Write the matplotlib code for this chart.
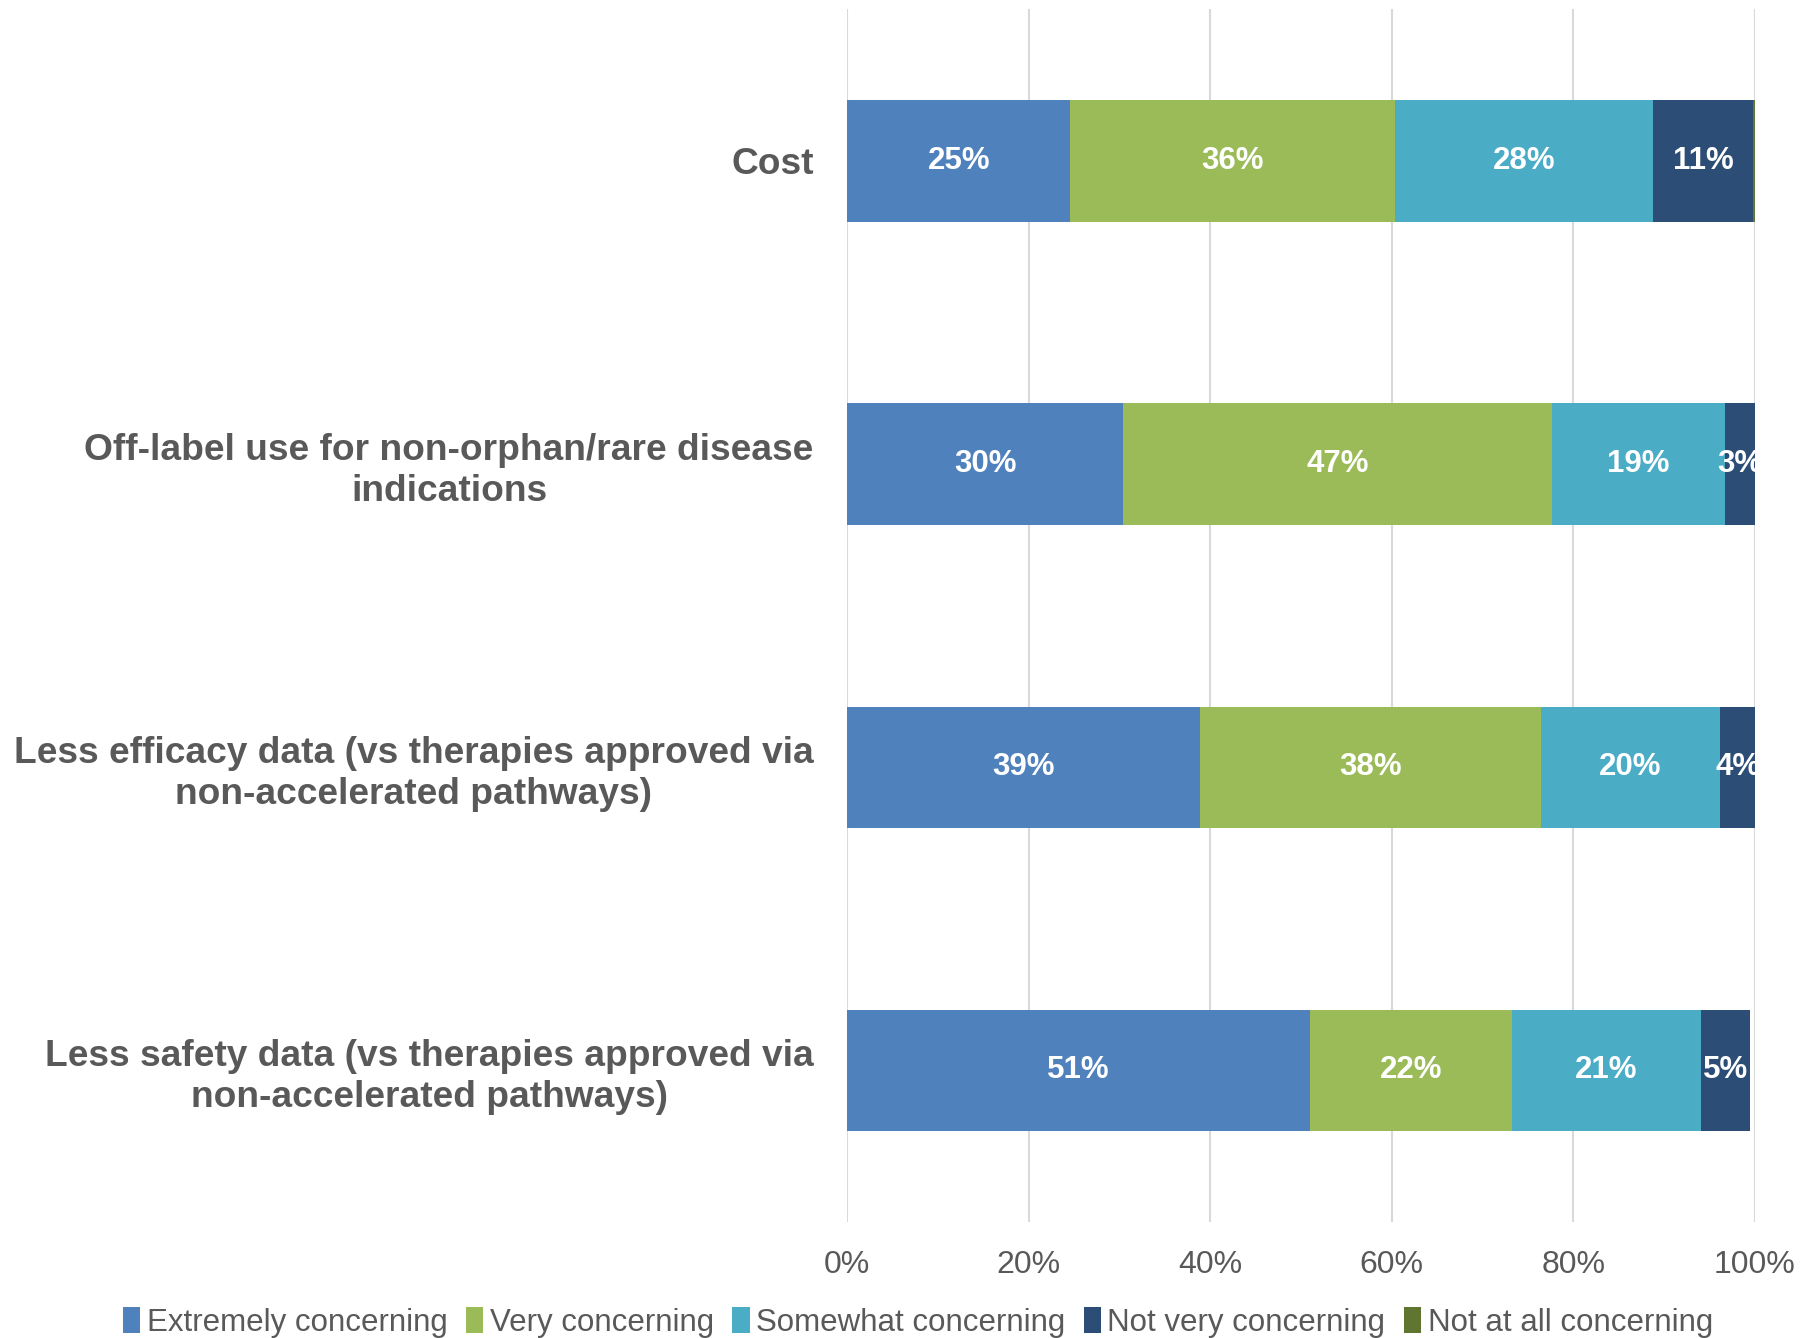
import matplotlib.pyplot as plt

plt.rcParams['font.family'] = ['Liberation Sans', 'DejaVu Sans']

categories = ['Cost',
              'Off-label use for non-orphan/rare disease\nindications',
              'Less efficacy data (vs therapies approved via\nnon-accelerated pathways)',
              'Less safety data (vs therapies approved via\nnon-accelerated pathways)']
series_names = ['Extremely concerning', 'Very concerning', 'Somewhat concerning',
                'Not very concerning', 'Not at all concerning']
extremely = [24.6, 30.4, 38.9, 51.0]
very = [35.7, 47.2, 37.5, 22.2]
somewhat = [28.5, 19.1, 19.8, 20.9]
not_very = [11.0, 3.3, 3.8, 5.3]
not_at_all = [0.2, 0.0, 0.0, 0.0]
colors = ['#4F81BD', '#9BBB59', '#4BACC6', '#2C4D75', '#5F7530']
tick_vals = [0, 20, 40, 60, 80, 100]

grey = '#595959'
fig = plt.figure(figsize=(18, 13.38), dpi=100)
ax = fig.add_axes([0.4706, 0.0867, 0.5044, 0.9063])

y = list(range(len(categories)))
left = [0.0] * len(categories)
for name, vals, col in zip(series_names, [extremely, very, somewhat, not_very, not_at_all], colors):
    bars = ax.barh(y, vals, left=left, height=0.4, color=col, label=name, zorder=3)
    for b, v, l in zip(bars, vals, left):
        if v >= 1:
            ax.text(l + v / 2, b.get_y() + b.get_height() / 2, f'{round(v)}%',
                    ha='center', va='center', color='white', fontsize=22.5,
                    fontweight='bold', zorder=4)
    left = [a + b for a, b in zip(left, vals)]

ax.set_ylim(3.5, -0.5)
ax.set_xlim(0, 100)
ax.set_yticks(y)
ax.set_yticklabels(categories, fontsize=26.7, fontweight='bold', color=grey,
                   multialignment='center', linespacing=1.2)
ax.set_xticks(tick_vals)
ax.set_xticklabels([f'{t}%' for t in tick_vals], fontsize=23, color=grey)
ax.tick_params(axis='y', length=0, pad=24)
ax.tick_params(axis='x', length=0, pad=20)
for s in ax.spines.values():
    s.set_visible(False)
ax.grid(axis='x', color='#D9D9D9', linewidth=1.5, zorder=0)

fig.legend(loc='lower center', bbox_to_anchor=(0.51, -0.021), ncol=5, frameon=False,
           fontsize=22.5, labelcolor=grey, handlelength=0.55, handleheight=0.9,
           handletextpad=0.2, columnspacing=0.6)

fig.savefig('out.png', dpi=100)
